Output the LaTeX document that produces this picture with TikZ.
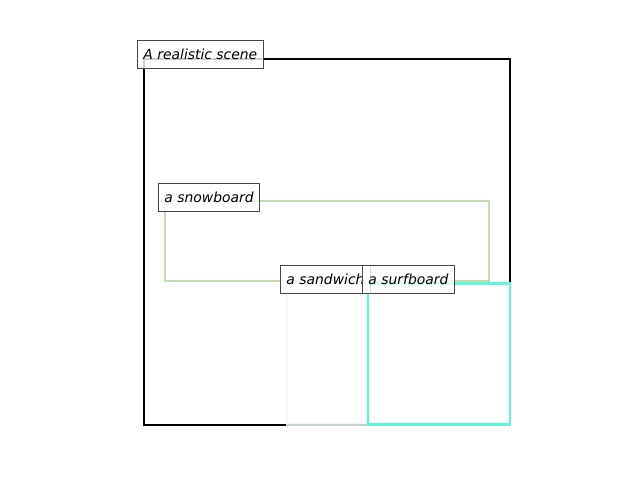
\documentclass[tikz,border=0pt]{standalone}
\usepackage{fontspec}
\setmainfont{DejaVu Sans}
\begin{document}
\begin{tikzpicture}[x=1pt,y=-1pt,
  lab/.style={draw=black!72,line width=0.9pt,fill=white,fill opacity=0.8,text opacity=1,
    anchor=west,inner xsep=6pt,inner ysep=0pt,minimum height=28pt,
    font=\fontsize{13.9}{16}\selectfont\itshape},
  boxline/.style={line width=2pt},
  colline/.style={line width=2.6pt}]
\useasboundingbox (0,0) rectangle (640,480);
% scene
\draw[boxline,black] (144,59) rectangle (510,425);
% snowboard
\definecolor{snowc}{HTML}{C2DDB2}
\draw[colline,snowc] (165,201) rectangle (489,281);
% sandwich
\definecolor{sandc}{HTML}{EEF9F9}
\draw[colline,sandc,draw opacity=0.85] (287,283) rectangle (367,424.5);
% surfboard
\definecolor{surfc}{HTML}{5EF5DA}
\draw[colline,surfc] (368,283.5) rectangle (510,424.5);
% labels
\node[lab] (scene) at (137,54) {A realistic scene};
\node[lab] (snow) at (158,197) {a snowboard};
\node[lab] (sand) at (280,279) {a sandwich};
\node[lab] (surf) at (362,279) {a surfboard};
\end{tikzpicture}
\end{document}
